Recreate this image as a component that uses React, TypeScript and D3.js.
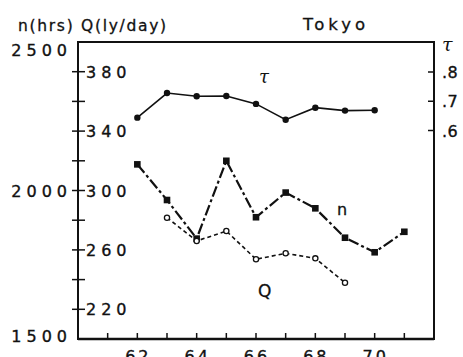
import React from "react";
import * as d3 from "d3";

const tauYears = [62, 63, 64, 65, 66, 67, 68, 69, 70];
const tauValues = [0.644, 0.728, 0.717, 0.718, 0.691, 0.637, 0.678, 0.668, 0.669];
const nYears = [62, 63, 64, 65, 66, 67, 68, 69, 70, 71];
const nValues = [2088, 1968, 1838, 2100, 1910, 1993, 1940, 1841, 1792, 1861];
const qYears = [63, 64, 65, 66, 67, 68, 69];
const qValues = [281.7, 266, 272.7, 253.7, 257.7, 254.3, 237.9];

const xTicks = [61, 62, 63, 64, 65, 66, 67, 68, 69, 70, 71];
const xLabels = [62, 64, 66, 68, 70];
const nLabels = [2500, 2000, 1500];
const qTicks = [380, 360, 340, 320, 300, 280, 260, 240, 220];
const qLabels = [380, 340, 300, 260, 220];
const tauTicks = [0.8, 0.7, 0.6];
const tauLabels = [".8", ".7", ".6"];

const W = 463;
const H = 357;
const L = 78;
const R = 434;
const T = 42;
const B = 339;

const FONT = "'DejaVu Sans', sans-serif";
const INK = "#111";

export default function App() {
  const x = d3.scaleLinear().domain([60, 72]).range([L, R]);
  const yN = d3.scaleLinear().domain([1500, 2500]).range([B, T]);
  const yQ = d3.scaleLinear().domain([200, 400]).range([B, T]);
  const yT = d3.scaleLinear().domain([0.6, 0.8]).range([130.5, 72]);

  const tauLine = d3
    .line<number>()
    .x((_, i) => x(tauYears[i]))
    .y((d) => yT(d));
  const nLine = d3
    .line<number>()
    .x((_, i) => x(nYears[i]))
    .y((d) => yN(d));
  const qLine = d3
    .line<number>()
    .x((_, i) => x(qYears[i]))
    .y((d) => yQ(d));

  const numStyle = {
    fontFamily: FONT,
    fontSize: 16,
    letterSpacing: 5,
    fill: INK,
    stroke: INK,
    strokeWidth: 0.35,
  };
  const tauNumStyle = { ...numStyle, letterSpacing: 0.5 };
  const xNumStyle = { ...numStyle, letterSpacing: 3 };

  return (
    <svg
      width={W}
      height={H}
      style={{ position: "absolute", left: 0, top: 0, background: "#fff" }}
    >
      <rect x={0} y={0} width={W} height={H} fill="#fff" />
      {/* titles */}
      <text
        x={18}
        y={31}
        style={{ fontFamily: FONT, fontSize: 15.5, letterSpacing: 1.7, fill: INK, stroke: INK, strokeWidth: 0.3 }}
      >
        n(hrs) Q(ly/day)
      </text>
      <text
        x={303}
        y={30}
        style={{ fontFamily: FONT, fontSize: 16.5, letterSpacing: 4, fill: INK, stroke: INK, strokeWidth: 0.3 }}
      >
        Tokyo
      </text>
      <text
        x={442}
        y={51}
        style={{ fontFamily: "'DejaVu Serif', serif", fontStyle: "italic", fontSize: 19, fill: INK }}
      >
        τ
      </text>

      {/* frame */}
      <path d={`M${L},${T}H${R}V${B}H${L}Z`} fill="none" stroke={INK} strokeWidth={2} />
      <line x1={L} x2={R} y1={B} y2={B} stroke={INK} strokeWidth={2.6} />

      {/* x ticks */}
      {xTicks.map((t) => (
        <line key={t} x1={x(t)} x2={x(t)} y1={B} y2={B - 6} stroke={INK} strokeWidth={1.5} />
      ))}
      {xLabels.map((t) => (
        <text key={t} x={x(t) + 1} y={362} textAnchor="middle" style={xNumStyle}>
          {t}
        </text>
      ))}

      {/* n labels */}
      {nLabels.map((v, i) => (
        <text
          key={v}
          x={72}
          y={yN(v) + 6 + (i === 0 ? 8 : i === 2 ? -3 : 0)}
          textAnchor="end"
          style={numStyle}
        >
          {v}
        </text>
      ))}

      {/* Q ticks */}
      {qTicks.map((v) => (
        <line key={v} x1={L - 6} x2={L + 7} y1={yQ(v)} y2={yQ(v)} stroke={INK} strokeWidth={1.5} />
      ))}
      {qLabels.map((v) => (
        <text key={v} x={86} y={yQ(v) + 6} style={numStyle}>
          {v}
        </text>
      ))}

      {/* tau ticks */}
      {tauTicks.map((v, i) => (
        <g key={v}>
          <line x1={R - 6} x2={R} y1={yT(v)} y2={yT(v)} stroke={INK} strokeWidth={1.5} />
          <text x={442} y={yT(v) + 6} style={tauNumStyle}>
            {tauLabels[i]}
          </text>
        </g>
      ))}

      {/* tau series */}
      <path d={tauLine(tauValues) || ""} fill="none" stroke={INK} strokeWidth={1.6} />
      {tauValues.map((v, i) => (
        <circle key={i} cx={x(tauYears[i])} cy={yT(v)} r={3.2} fill={INK} />
      ))}

      {/* n series */}
      <path
        d={nLine(nValues) || ""}
        fill="none"
        stroke={INK}
        strokeWidth={2.2}
        strokeDasharray="11 3 3 3"
      />
      {nValues.map((v, i) => (
        <rect key={i} x={x(nYears[i]) - 3.3} y={yN(v) - 3.3} width={6.6} height={6.6} fill={INK} />
      ))}

      {/* Q series */}
      <path
        d={qLine(qValues) || ""}
        fill="none"
        stroke={INK}
        strokeWidth={1.6}
        strokeDasharray="4 3"
      />
      {qValues.map((v, i) => (
        <circle key={i} cx={x(qYears[i])} cy={yQ(v)} r={2.6} fill="#fff" stroke={INK} strokeWidth={1.3} />
      ))}

      {/* series labels */}
      <text
        x={259}
        y={83}
        style={{ fontFamily: "'DejaVu Serif', serif", fontStyle: "italic", fontSize: 18, fill: INK }}
      >
        τ
      </text>
      <text x={337} y={215} style={{ fontFamily: FONT, fontSize: 16, fill: INK, stroke: INK, strokeWidth: 0.3 }}>
        n
      </text>
      <text x={258} y={297} style={{ fontFamily: FONT, fontSize: 17, fill: INK, stroke: INK, strokeWidth: 0.3 }}>
        Q
      </text>
    </svg>
  );
}
